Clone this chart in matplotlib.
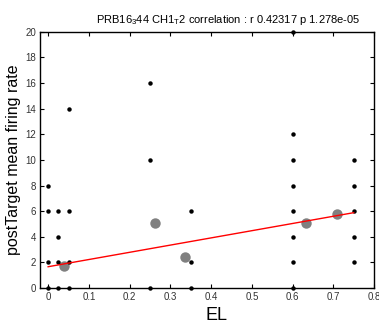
import matplotlib
matplotlib.use('Agg')
import matplotlib.pyplot as plt

plt.rcParams['font.family'] = ['Liberation Sans', 'DejaVu Sans']
plt.rcParams['mathtext.fontset'] = 'custom'
plt.rcParams['mathtext.rm'] = 'Liberation Sans'

# raw trials (EL, firing rate)
el = [0, 0, 0, 0,
      0.025, 0.025, 0.025, 0.025,
      0.05, 0.05, 0.05, 0.05,
      0.25, 0.25, 0.25,
      0.35, 0.35, 0.35,
      0.6, 0.6, 0.6, 0.6, 0.6, 0.6, 0.6, 0.6,
      0.75, 0.75, 0.75, 0.75, 0.75]
rate = [0, 2, 6, 8,
        0, 2, 4, 6,
        0, 2, 6, 14,
        0, 10, 16,
        0, 2, 6,
        0, 2, 4, 6, 8, 10, 12, 20,
        2, 4, 6, 8, 10]

# binned means (gray)
mean_el = [0.039, 0.262, 0.337, 0.634, 0.709]
mean_rate = [1.75, 5.1, 2.4, 5.1, 5.75]

# regression line
fit_x = [0, 0.75]
fit_y = [1.66, 5.88]

fig = plt.figure(figsize=(3.79, 3.28), dpi=100)
ax = fig.add_axes([0.1055, 0.122, 0.8815, 0.781])

ax.plot(mean_el, mean_rate, 'o', color='#808080', markersize=7.5, markeredgewidth=0, clip_on=False, zorder=2)
ax.plot(el, rate, 'o', color='black', markersize=3.2, markeredgewidth=0, clip_on=False, zorder=3)
ax.plot(fit_x, fit_y, '-', color='red', linewidth=1.0, zorder=4)

ax.set_xlim(-0.02, 0.8)
ax.set_ylim(0, 20)
ax.set_xticks([0, 0.1, 0.2, 0.3, 0.4, 0.5, 0.6, 0.7, 0.8])
ax.set_xticklabels(['0', '0.1', '0.2', '0.3', '0.4', '0.5', '0.6', '0.7', '0.8'])
ax.set_yticks(range(0, 21, 2))
ax.tick_params(direction='in', top=True, right=True, length=3, width=0.8,
               labelsize=7, labelcolor='#333333', pad=3)
for s in ax.spines.values():
    s.set_linewidth(1.0)

ax.set_title(r'PRB16$_\mathrm{3}$44 CH1$_\mathrm{T}$2 correlation : r 0.42317 p 1.278e-05',
             fontsize=8, x=0.563, pad=6)
ax.set_xlabel('EL', fontsize=13, labelpad=2)
ax.xaxis.set_label_coords(0.527, -0.075)
ax.set_ylabel('postTarget mean firing rate', fontsize=11.5, labelpad=3)

fig.savefig('out.png', dpi=100)
